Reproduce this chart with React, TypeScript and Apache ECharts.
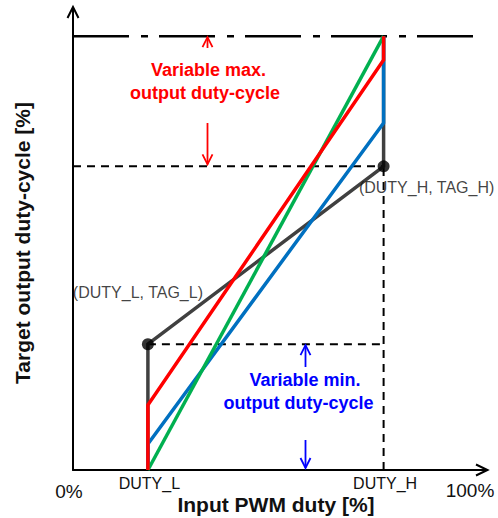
import React, { useEffect, useRef } from "react";
import * as echarts from "echarts";

// Key input / output levels (percent)
const DUTY_L = 18.4;
const DUTY_H = 76.3;
const TAG_L = 29;
const TAG_H = 70;
const OUT_MAX = 100;
const IN_MAX = 100;

// Transfer curves: [input duty %, output duty %]
const grayLine = [[DUTY_L, 0], [DUTY_L, TAG_L], [DUTY_H, TAG_H], [DUTY_H, OUT_MAX]];
const blueLine = [[DUTY_L, 0], [DUTY_L, 6], [DUTY_H, 80], [DUTY_H, OUT_MAX]];
const greenLine = [[DUTY_L, 0], [DUTY_H, OUT_MAX]];
const redLine = [[DUTY_L, 0], [DUTY_L, 15], [DUTY_H, 94.5], [DUTY_H, OUT_MAX]];

// Reference lines
const maxLine = [[0, OUT_MAX], [IN_MAX, OUT_MAX]];
const tagHLine = [[0, TAG_H], [DUTY_H, TAG_H]];
const tagLLine = [[DUTY_L, TAG_L], [DUTY_H, TAG_L]];
const dutyHLine = [[DUTY_H, 0], [DUTY_H, TAG_H]];

// Texts
const xTickLabels = ["0%", "DUTY_L", "DUTY_H", "100%"];
const pointLabels = ["(DUTY_L, TAG_L)", "(DUTY_H, TAG_H)"];
const maxText = ["Variable max.", "output duty-cycle"];
const minText = ["Variable min.", "output duty-cycle"];
const xTitle = "Input PWM duty [%]";
const yTitle = "Target output duty-cycle [%]";

const FONT = "'Liberation Sans', Arial, Helvetica, sans-serif";
const RED = "#ff0000";
const BLUE_LINE = "#0070c0";
const GREEN = "#00b050";
const GRAY = "#404040";
const BLUE_TEXT = "#0000ff";

export default function App() {
  const ref = useRef<HTMLDivElement>(null);

  useEffect(() => {
    const chart = echarts.init(ref.current!, null, { renderer: "svg" });

    const dashed = (data: number[][], type: any, width = 2) => ({
      type: "line",
      data,
      symbol: "none",
      silent: true,
      z: 2,
      lineStyle: { color: "#000", width, type },
    });
    const solid = (data: number[][], color: string, z: number) => ({
      type: "line",
      data,
      symbol: "none",
      silent: true,
      z,
      lineStyle: { color, width: 3.5, cap: "butt", join: "miter" },
    });
    const axisCommon = {
      type: "value",
      min: 0,
      axisLine: { show: true, onZero: false, lineStyle: { color: "#000", width: 2 } },
      axisTick: { show: false },
      axisLabel: { show: false },
      splitLine: { show: false },
    };

    chart.setOption({
      animation: false,
      grid: { left: 73, right: 11, top: 8, bottom: 48 },
      xAxis: { ...axisCommon, max: 101.7 },
      yAxis: { ...axisCommon, max: 106.5 },
      series: [
        dashed(maxLine, [56, 12, 7, 11], 2.5),
        dashed(tagHLine, [8, 6]),
        dashed(tagLLine, [8, 6]),
        dashed(dutyHLine, [8, 6]),
        solid(grayLine, GRAY, 3),
        solid(blueLine, BLUE_LINE, 4),
        solid(greenLine, GREEN, 5),
        solid(redLine, RED, 6),
        {
          type: "scatter",
          z: 7,
          silent: true,
          symbolSize: 12,
          itemStyle: { color: "#000" },
          data: [
            {
              value: [DUTY_L, TAG_L],
              label: {
                show: true,
                formatter: pointLabels[0],
                position: "inside",
                offset: [-10, -52],
                color: "#111",
                fontSize: 16,
                fontFamily: FONT,
              },
            },
            {
              value: [DUTY_H, TAG_H],
              label: {
                show: true,
                formatter: pointLabels[1],
                position: "inside",
                offset: [43, 21],
                color: "#111",
                fontSize: 16,
                fontFamily: FONT,
              },
            },
          ],
        },
      ],
    });

    const px = (x: number, y: number) => chart.convertToPixel({ gridIndex: 0 }, [x, y]) as number[];
    const origin = px(0, 0);
    const xEnd = px(101.7, 0);
    const yEnd = px(0, 106.5);
    const yMax = px(0, OUT_MAX)[1];
    const yTagH = px(0, TAG_H)[1];
    const yTagL = px(0, TAG_L)[1];
    const xDL = px(DUTY_L, 0)[0];
    const xDH = px(DUTY_H, 0)[0];

    const arrow = (x: number, tail: number, tip: number, color: string, lw = 1.8) => {
      const dir = tip < tail ? 1 : -1;
      return [
        { type: "line", shape: { x1: x, y1: tail, x2: x, y2: tip }, style: { stroke: color, lineWidth: lw }, z: 20 },
        {
          type: "polyline",
          shape: { points: [[x - 5, tip + dir * 10], [x, tip], [x + 5, tip + dir * 10]] },
          style: { stroke: color, lineWidth: lw, fill: null },
          z: 20,
        },
      ];
    };
    const text = (t: string, x: number, y: number, font: string, fill: string, extra: any = {}) => ({
      type: "text",
      x,
      y,
      z: 20,
      style: { text: t, font, fill, align: "center", verticalAlign: "middle", ...extra },
    });

    const bold18 = `bold 18px ${FONT}`;
    chart.setOption({
      graphic: [
        // axis arrow heads
        {
          type: "polyline",
          shape: { points: [[yEnd[0] - 5.5, yEnd[1] + 10], [yEnd[0], yEnd[1] - 1], [yEnd[0] + 5.5, yEnd[1] + 10]] },
          style: { stroke: "#000", lineWidth: 2, fill: null },
          z: 20,
        },
        {
          type: "polyline",
          shape: { points: [[xEnd[0] - 11, xEnd[1] - 5.5], [xEnd[0] + 0.5, xEnd[1]], [xEnd[0] - 11, xEnd[1] + 5.5]] },
          style: { stroke: "#000", lineWidth: 2, fill: null },
          z: 20,
        },
        // max annotation
        ...arrow(207.5, 48, yMax + 1, RED),
        ...arrow(207.5, 123, yTagH - 2, RED),
        text(maxText[0], 208.5, 70, bold18, RED),
        text(maxText[1], 205, 93, bold18, RED),
        // min annotation
        ...arrow(305.5, 367, yTagL + 1, BLUE_TEXT),
        ...arrow(305.5, 440, origin[1] - 2, BLUE_TEXT),
        text(minText[0], 305, 380, bold18, BLUE_TEXT),
        text(minText[1], 298.5, 403, bold18, BLUE_TEXT),
        // x tick labels
        text(xTickLabels[0], origin[0] - 4, 491, `19px ${FONT}`, "#111"),
        text(xTickLabels[1], xDL + 1.5, 483, `16px ${FONT}`, "#111"),
        text(xTickLabels[2], xDH + 1.5, 483, `16px ${FONT}`, "#111"),
        text(xTickLabels[3], 470, 490, `19px ${FONT}`, "#111"),
        // titles
        text(xTitle, 276, 504, `bold 21px ${FONT}`, "#111"),
        {
          type: "text",
          x: 22,
          y: 243,
          rotation: Math.PI / 2,
          z: 20,
          style: { text: yTitle, font: `bold 21px ${FONT}`, fill: "#111", align: "center", verticalAlign: "middle" },
        },
      ],
    });

    return () => chart.dispose();
  }, []);

  return <div ref={ref} style={{ position: "absolute", left: 0, top: 0, width: 498, height: 518 }} />;
}
